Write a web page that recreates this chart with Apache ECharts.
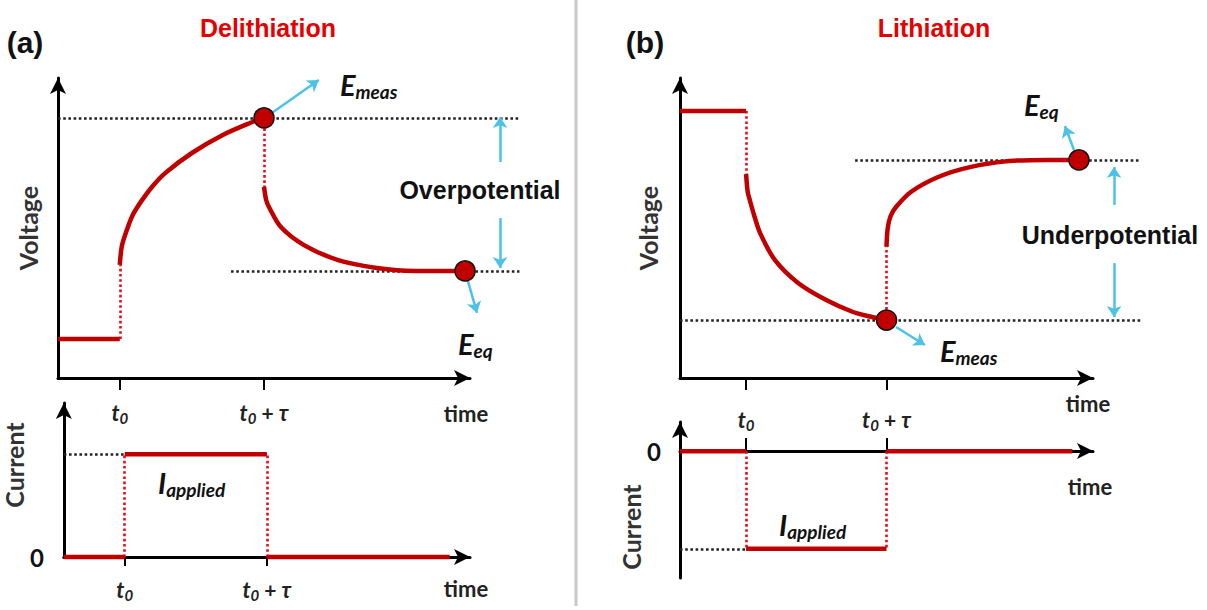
<!DOCTYPE html>
<html>
<head>
<meta charset="utf-8">
<title>Delithiation / Lithiation</title>
<script src="https://cdn.jsdelivr.net/npm/echarts@6/dist/echarts.min.js"></script>
<style>
  html, body { margin: 0; padding: 0; background: #fff; }
  #chart { width: 1207px; height: 610px; }
</style>
</head>
<body>
<div id="chart"></div>
<script>
// tick positions (time units) for t0 and t0 + tau
var aTicks = [1.5, 5];
var bTicks = [1.6, 5];

// ---- panel (a) delithiation, voltage ----
var aVoltBefore = [[0, 1.3], [1.5, 1.3]];
var aVoltJump = [[1.5, 1.3], [1.5, 3.77]];
var aVoltRise = [[1.5, 3.77], [1.55, 4.4], [1.67, 4.93], [1.82, 5.45], [2.04, 5.93], [2.3, 6.4], [2.6, 6.83], [3.25, 7.5], [4.0, 8.1], [4.66, 8.5], [5.0, 8.67]];
var aVoltDrop = [[5.0, 8.67], [5.0, 6.37]];
var aVoltRelax = [[5.0, 6.37], [5.05, 5.95], [5.12, 5.7], [5.41, 5.03], [5.97, 4.43], [6.8, 3.93], [7.74, 3.67], [8.67, 3.57], [9.88, 3.57]];
var aPoints = [[5.0, 8.67], [9.88, 3.57]];
var aGuideHigh = [[0, 8.67], [11.2, 8.67]];
var aGuideLow = [[4.2, 3.57], [11.2, 3.57]];
var aArrowMeas = [[5.12, 8.77], [6.33, 9.93]];
var aArrowEq = [[9.93, 3.33], [10.17, 2.17]];
var aOverUp = [[10.73, 7.2], [10.73, 8.7]];
var aOverDown = [[10.73, 5.33], [10.73, 3.67]];

// ---- panel (a) current ----
var aCurBefore = [[0, 0], [1.5, 0]];
var aCurPulse = [[1.5, 1], [5, 1]];
var aCurAfter = [[5, 0], [9.5, 0]];
var aCurEdge1 = [[1.5, 0], [1.5, 1]];
var aCurEdge2 = [[5, 0], [5, 1]];
var aCurGuide = [[0, 1], [1.5, 1]];

// ---- panel (b) lithiation, voltage ----
var bVoltBefore = [[0, 8.9], [1.6, 8.9]];
var bVoltJump = [[1.6, 8.9], [1.6, 6.8]];
var bVoltFall = [[1.6, 6.8], [1.64, 6.2], [1.69, 5.93], [1.8, 5.4], [1.94, 4.83], [2.3, 3.93], [2.86, 3.17], [3.54, 2.6], [4.19, 2.2], [4.6, 2.05], [5.0, 1.93]];
var bVoltStep = [[5, 1.93], [5, 4.37]];
var bVoltRecover = [[5, 4.37], [5.03, 5.0], [5.1, 5.4], [5.23, 5.7], [5.59, 6.2], [6.25, 6.7], [7.02, 7.03], [7.97, 7.23], [8.89, 7.27], [9.66, 7.27]];
var bPoints = [[5, 1.93], [9.66, 7.27]];
var bGuideHigh = [[4.24, 7.27], [11.16, 7.27]];
var bGuideLow = [[0, 1.93], [11.16, 1.93]];
var bArrowEq = [[9.54, 7.6], [9.32, 8.4]];
var bArrowMeas = [[5.23, 1.7], [5.93, 1.1]];
var bUnderUp = [[10.51, 5.77], [10.51, 7.03]];
var bUnderDown = [[10.51, 3.83], [10.51, 2.03]];

// ---- panel (b) current ----
var bCurBefore = [[0, 0], [1.6, 0]];
var bCurPulse = [[1.6, -1], [5, -1]];
var bCurAfter = [[5, 0], [9.5, 0]];
var bCurEdge1 = [[1.6, 0], [1.6, -1]];
var bCurEdge2 = [[5, 0], [5, -1]];
var bCurGuide = [[0, -1], [1.6, -1]];

var RED = '#c00000';
var DOT_RED = '#e0101a';
var CYAN = '#4cc2e6';
var LABEL_FONT = 'Lato, "Open Sans", sans-serif';

var chart = echarts.init(document.getElementById('chart'), null, { renderer: 'svg' });

function solid(g, data, smooth) {
    return {
        type: 'line', xAxisIndex: g, yAxisIndex: g, data: data,
        symbol: 'none', smooth: smooth || false, clip: false, z: 3,
        lineStyle: { color: RED, width: 4.5 }
    };
}
// dotted guides drawn as 'lines' so they can run past the axis end
function dotted(g, coords, color) {
    return {
        type: 'lines', coordinateSystem: 'cartesian2d', xAxisIndex: g, yAxisIndex: g,
        clip: false, z: 2, symbol: 'none',
        lineStyle: { color: color, width: 2.6, type: 'dotted', opacity: 1, curveness: 0 },
        data: [{ coords: coords }]
    };
}
function arrow(g, coords) {
    return {
        type: 'lines', coordinateSystem: 'cartesian2d', xAxisIndex: g, yAxisIndex: g,
        clip: false, z: 4, symbol: ['none', 'arrow'], symbolSize: 11,
        lineStyle: { color: CYAN, width: 2.5, opacity: 1, curveness: 0 },
        data: [{ coords: coords }]
    };
}
function dots(g, data) {
    return {
        type: 'scatter', xAxisIndex: g, yAxisIndex: g, data: data,
        symbolSize: 20, clip: false, z: 5,
        itemStyle: { color: RED, borderColor: '#111', borderWidth: 1.5, opacity: 1 }
    };
}

var tickRich = {
    i: { fontFamily: LABEL_FONT, fontStyle: 'italic', fontWeight: 'bold', fontSize: 22, color: '#222' },
    s: { fontFamily: LABEL_FONT, fontStyle: 'italic', fontWeight: 'bold', fontSize: 15, color: '#222', padding: [10, 0, 0, 0] },
    p: { fontFamily: LABEL_FONT, fontWeight: 'bold', fontSize: 21, color: '#222' }
};
function tickText(ticks) {
    return function (v) {
        return v === ticks[0] ? '{i|t}{s|0}' : '{i|t}{s|0}{p| + }{i|τ}';
    };
}

function xAxis(g, ticks, opts) {
    return {
        type: 'value', gridIndex: g, min: 0, max: 10,
        offset: opts.offset || 0,
        splitLine: { show: false },
        axisLine: { onZero: false, symbol: ['none', 'arrow'], symbolSize: [12, 16], lineStyle: { color: '#000', width: 3 } },
        axisTick: { show: true, customValues: ticks, inside: !!opts.inside, length: opts.tickLen, lineStyle: { color: '#000', width: 2 } },
        axisLabel: {
            show: opts.labels, customValues: ticks, inside: !!opts.inside, margin: opts.margin,
            formatter: tickText(ticks), rich: tickRich
        },
        name: 'time', nameLocation: 'end', nameGap: opts.nameGap,
        nameTextStyle: {
            fontFamily: LABEL_FONT, fontWeight: 'bold', fontSize: 22, color: '#222',
            align: 'center', verticalAlign: 'top', padding: [opts.namePad, 0, 0, 0]
        }
    };
}
function yAxis(g, min, max, name, opts) {
    return {
        type: 'value', gridIndex: g, min: min, max: max,
        splitLine: { show: false },
        axisLine: { onZero: false, symbol: ['none', 'arrow'], symbolSize: [12, 16], lineStyle: { color: '#000', width: 3 } },
        axisTick: { show: false },
        axisLabel: {
            show: !!opts.zero, customValues: [0], margin: opts.labelMargin || 18,
            fontFamily: LABEL_FONT, fontWeight: 'bold', fontSize: 24, color: '#111',
            formatter: function () { return '0'; }
        },
        name: name, nameLocation: 'middle', nameGap: opts.nameGap,
        nameTextStyle: {
            fontFamily: LABEL_FONT, fontWeight: 'bold', fontSize: 25, color: '#333',
            padding: opts.namePad || 0
        }
    };
}

var bigE = { fontFamily: LABEL_FONT, fontStyle: 'italic', fontWeight: 'bold', fontSize: 29, color: '#222' };
var subE = { fontFamily: LABEL_FONT, fontStyle: 'italic', fontWeight: 'bold', fontSize: 19, color: '#222', padding: [14, 0, 0, 0] };
function note(x, y, text, extra) {
    return {
        type: 'text', x: x, y: y, z: 10,
        style: Object.assign({ text: text, fill: '#111', align: 'center', verticalAlign: 'middle' }, extra)
    };
}
var headFont = 'bold 25px "Liberation Sans", Arial, sans-serif';

var option = {
    backgroundColor: '#fff',
    animation: false,
    grid: [
        { left: 58, top: 78, width: 412, height: 300 },
        { left: 58, top: 403, width: 412, height: 154 },
        { left: 680, top: 78, width: 413, height: 300 },
        { left: 680, top: 422, width: 413, height: 156 }
    ],
    xAxis: [
        xAxis(0, aTicks, { tickLen: 12, labels: true, margin: 22, nameGap: -4, namePad: 24 }),
        xAxis(1, aTicks, { tickLen: 9, labels: true, margin: 20, nameGap: -4, namePad: 20 }),
        xAxis(2, bTicks, { tickLen: 12, labels: false, margin: 20, nameGap: -5, namePad: 14 }),
        xAxis(3, bTicks, { tickLen: 13, labels: true, inside: true, margin: 19, nameGap: -3, namePad: 24, offset: -127 })
    ],
    yAxis: [
        yAxis(0, 0, 10, 'Voltage', { nameGap: 18 }),
        yAxis(1, 0, 1.5, 'Current', { nameGap: 18, zero: true, labelMargin: 20, namePad: [0, 0, 0, 30] }),
        yAxis(2, 0, 10, 'Voltage', { nameGap: 20 }),
        yAxis(3, -1.3, 0.3, 'Current', { nameGap: 20, zero: true, labelMargin: 19, namePad: [0, 54, 0, 0] })
    ],
    series: [
        // (a) voltage
        dotted(0, aGuideHigh, '#222'),
        dotted(0, aGuideLow, '#222'),
        dotted(0, aVoltJump, DOT_RED),
        dotted(0, aVoltDrop, DOT_RED),
        solid(0, aVoltBefore),
        solid(0, aVoltRise, 0.3),
        solid(0, aVoltRelax, 0.3),
        arrow(0, aArrowMeas),
        arrow(0, aArrowEq),
        arrow(0, aOverUp),
        arrow(0, aOverDown),
        dots(0, aPoints),
        // (a) current
        dotted(1, aCurGuide, '#222'),
        dotted(1, aCurEdge1, DOT_RED),
        dotted(1, aCurEdge2, DOT_RED),
        solid(1, aCurBefore),
        solid(1, aCurPulse),
        solid(1, aCurAfter),
        // (b) voltage
        dotted(2, bGuideHigh, '#222'),
        dotted(2, bGuideLow, '#222'),
        dotted(2, bVoltJump, DOT_RED),
        dotted(2, bVoltStep, DOT_RED),
        solid(2, bVoltBefore),
        solid(2, bVoltFall, 0.3),
        solid(2, bVoltRecover, 0.3),
        arrow(2, bArrowEq),
        arrow(2, bArrowMeas),
        arrow(2, bUnderUp),
        arrow(2, bUnderDown),
        dots(2, bPoints),
        // (b) current
        dotted(3, bCurGuide, '#222'),
        dotted(3, bCurEdge1, DOT_RED),
        dotted(3, bCurEdge2, DOT_RED),
        solid(3, bCurBefore),
        solid(3, bCurPulse),
        solid(3, bCurAfter)
    ],
    graphic: [
        { type: 'line', shape: { x1: 576, y1: 0, x2: 576, y2: 606 }, style: { stroke: '#c8c8c8', lineWidth: 3 } },
        note(25, 42, '(a)', { font: 'bold 30px "Liberation Sans", Arial, sans-serif' }),
        note(645, 42, '(b)', { font: 'bold 30px "Liberation Sans", Arial, sans-serif' }),
        note(268, 28, 'Delithiation', { font: headFont, fill: '#e60000' }),
        note(934, 28, 'Lithiation', { font: headFont, fill: '#e60000' }),
        note(480, 190, 'Overpotential', { font: headFont }),
        note(1110, 235, 'Underpotential', { font: headFont }),
        note(340, 84, '{E|E}{s|meas}', { align: 'left', rich: { E: bigE, s: subE } }),
        note(458, 343, '{E|E}{s|eq}', { align: 'left', rich: { E: bigE, s: subE } }),
        note(1024, 104, '{E|E}{s|eq}', { align: 'left', rich: { E: bigE, s: subE } }),
        note(940, 350, '{E|E}{s|meas}', { align: 'left', rich: { E: bigE, s: subE } }),
        note(158, 482, '{E|I}{s|applied}', { align: 'left', rich: { E: bigE, s: subE } }),
        note(779, 524, '{E|I}{s|applied}', { align: 'left', rich: { E: bigE, s: subE } })
    ]
};

chart.setOption(option);
</script>
</body>
</html>
